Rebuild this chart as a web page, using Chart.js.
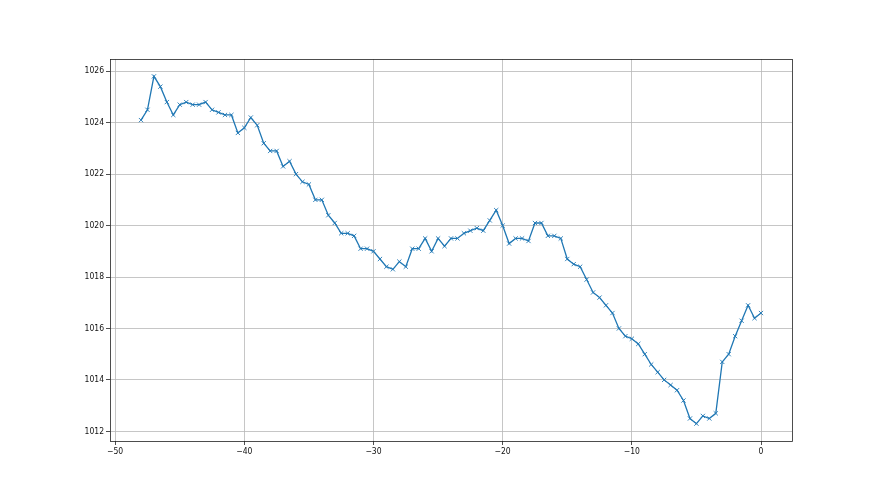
<!DOCTYPE html>
<html>
<head>
<meta charset="utf-8">
<script src="https://cdn.jsdelivr.net/npm/chart.js@4"></script>
<style>
  html, body { margin: 0; padding: 0; background: #fff; }
  #wrap { width: 880px; height: 495px; }
</style>
</head>
<body>
<div id="wrap"><canvas id="chart" width="880" height="495"></canvas></div>
<script>
// ---- data ----
const hours = [
  -48, -47.5, -47, -46.5, -46, -45.5, -45, -44.5, -44, -43.5, -43, -42.5,
  -42, -41.5, -41, -40.5, -40, -39.5, -39, -38.5, -38, -37.5, -37, -36.5,
  -36, -35.5, -35, -34.5, -34, -33.5, -33, -32.5, -32, -31.5, -31, -30.5,
  -30, -29.5, -29, -28.5, -28, -27.5, -27, -26.5, -26, -25.5, -25, -24.5,
  -24, -23.5, -23, -22.5, -22, -21.5, -21, -20.5, -20, -19.5, -19, -18.5,
  -18, -17.5, -17, -16.5, -16, -15.5, -15, -14.5, -14, -13.5, -13, -12.5,
  -12, -11.5, -11, -10.5, -10, -9.5, -9, -8.5, -8, -7.5, -7, -6.5,
  -6, -5.5, -5, -4.5, -4, -3.5, -3, -2.5, -2, -1.5, -1, -0.5, 0
];
const pressure = [
  1024.1, 1024.5, 1025.8, 1025.4, 1024.8, 1024.3, 1024.7, 1024.8, 1024.7, 1024.7, 1024.8, 1024.5,
  1024.4, 1024.3, 1024.3, 1023.6, 1023.8, 1024.2, 1023.9, 1023.2, 1022.9, 1022.9, 1022.3, 1022.5,
  1022.0, 1021.7, 1021.6, 1021.0, 1021.0, 1020.4, 1020.1, 1019.7, 1019.7, 1019.6, 1019.1, 1019.1,
  1019.0, 1018.7, 1018.4, 1018.3, 1018.6, 1018.4, 1019.1, 1019.1, 1019.5, 1019.0, 1019.5, 1019.2,
  1019.5, 1019.5, 1019.7, 1019.8, 1019.9, 1019.8, 1020.2, 1020.6, 1020.0, 1019.3, 1019.5, 1019.5,
  1019.4, 1020.1, 1020.1, 1019.6, 1019.6, 1019.5, 1018.7, 1018.5, 1018.4, 1017.9, 1017.4, 1017.2,
  1016.9, 1016.6, 1016.0, 1015.7, 1015.6, 1015.4, 1015.0, 1014.6, 1014.3, 1014.0, 1013.8, 1013.6,
  1013.2, 1012.5, 1012.3, 1012.6, 1012.5, 1012.7, 1014.7, 1015.0, 1015.7, 1016.3, 1016.9, 1016.4, 1016.6
];
const xTicks = [-50, -40, -30, -20, -10, 0];
const yTicks = [1012, 1014, 1016, 1018, 1020, 1022, 1024, 1026];

// matplotlib-ish look
const BLUE = '#1f77b4';
const GRID = '#b8b8b8';
const FONT = { family: '"DejaVu Sans Condensed", "DejaVu Sans"', size: 8.5 };

// full black frame around the axes, like mpl spines
const frame = {
  id: 'frame',
  afterDraw(c) {
    const a = c.chartArea, ctx = c.ctx;
    ctx.save();
    ctx.strokeStyle = '#222';
    ctx.lineWidth = 0.8;
    ctx.strokeRect(a.left + 0.5, a.top + 0.5, a.right - a.left, a.bottom - a.top);
    ctx.restore();
  }
};

const minus = v => String(v).replace('-', '\u2212');

new Chart(document.getElementById('chart'), {
  type: 'line',
  data: {
    datasets: [{
      data: hours.map((h, i) => ({ x: h, y: pressure[i] })),
      borderColor: BLUE, backgroundColor: BLUE,
      borderWidth: 1.3, tension: 0,
      pointStyle: 'crossRot', pointRadius: 3, pointBorderWidth: 0.9,
      pointBorderColor: BLUE, pointHoverRadius: 3
    }]
  },
  options: {
    responsive: false, animation: false,
    layout: { padding: { left: 0, right: 88, top: 59, bottom: 0 } },
    plugins: { legend: { display: false }, tooltip: { enabled: false } },
    scales: {
      x: {
        type: 'linear', min: -50.4, max: 2.4,
        afterBuildTicks: s => { s.ticks = xTicks.map(v => ({ value: v })); },
        afterFit: s => { s.height = 54; },
        grid: { color: GRID, lineWidth: 0.8, tickColor: '#222', tickLength: 4 },
        border: { display: false },
        ticks: { color: '#111', font: FONT, padding: 2, maxRotation: 0, callback: minus }
      },
      y: {
        type: 'linear', min: 1011.625, max: 1026.475,
        afterBuildTicks: s => { s.ticks = yTicks.map(v => ({ value: v })); },
        afterFit: s => { s.width = 110; },
        grid: { color: GRID, lineWidth: 0.8, tickColor: '#222', tickLength: 4 },
        border: { display: false },
        ticks: { color: '#111', font: FONT, padding: 2, callback: v => String(v) }
      }
    }
  },
  plugins: [frame]
});
</script>
</body>
</html>
